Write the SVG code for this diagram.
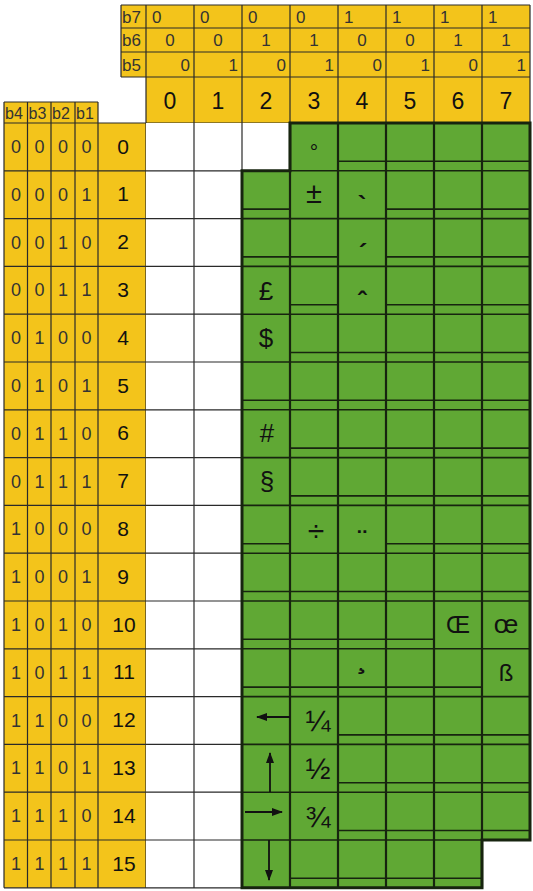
<svg xmlns="http://www.w3.org/2000/svg" width="533" height="891" viewBox="0 0 533 891">
<style>
.y{fill:#f3c41b}
.g{fill:#60a834}
.w{fill:#ffffff}
.ln{stroke:#2a2a2a;stroke-width:1.2;fill:none}
.gl{stroke:#17240f;stroke-width:1.6;fill:none}
.gv{stroke:#17240f;stroke-width:2.2;fill:none}
.ol{stroke:#17240f;stroke-width:3;fill:none;stroke-linejoin:miter}
.bit{font-family:"Liberation Sans",Arial,sans-serif;fill:#333;font-size:18px;text-anchor:middle}
.hb{font-family:"Liberation Sans",Arial,sans-serif;fill:#333;font-size:17px}
.lb{font-family:"Liberation Sans",Arial,sans-serif;fill:#333;font-size:16px}
.num{font-family:"Liberation Sans",Arial,sans-serif;fill:#111;font-size:21px;text-anchor:middle}
.dig{font-family:"Liberation Sans",Arial,sans-serif;fill:#111;font-size:23px;text-anchor:middle}
.sym{font-family:"Liberation Sans","DejaVu Sans",sans-serif;fill:#111;text-anchor:middle}
.arr{stroke:#111;stroke-width:1.8;fill:none}
</style>
<defs>
<marker id="ah" viewBox="0 0 11 8" refX="10" refY="4" markerWidth="11" markerHeight="8" markerUnits="userSpaceOnUse" orient="auto">
<path d="M0,0 L11,4 L0,8 Z" fill="#111"/>
</marker>
</defs>

<g id="column-header">
<rect class="y" x="121" y="5" width="409" height="72"/>
<rect class="y" x="146" y="77" width="384" height="46"/>
<path class="ln" d="M121,5 H530 M121,28 H530 M121,52 H530 M121,77 H530 M146,123 H530 M121,5 V77 M146,5 V123 M194,5 V123 M242,5 V123 M290,5 V123 M338,5 V123 M386,5 V123 M434,5 V123 M482,5 V123 M530,5 V123"/>
<text class="hb" x="122" y="23">b7</text>
<text class="hb" x="122" y="46">b6</text>
<text class="hb" x="122" y="71">b5</text>
<text class="hb" x="152 200 248 296 344 392 440 488" y="23">00001111</text>
<text class="hb" text-anchor="middle" x="170 218 266 314 362 410 458 506" y="46">00110011</text>
<text class="hb" text-anchor="end" x="190 238 286 334 382 430 478 526" y="71">01010101</text>
<text class="dig" x="170 218 266 314 362 410 458 506" y="109">01234567</text>
</g>

<g id="row-header">
<rect class="y" x="4" y="102" width="94" height="21"/>
<rect class="y" x="4" y="123" width="142" height="764.8"/>
<path class="ln" d="M4,102 H98 M4,102 V887.8 M27.5,102 V887.8 M51,102 V887.8 M75,102 V887.8 M98,102 V887.8 M146,123 V887.8
M4,123 H146 M4,170.8 H146 M4,218.6 H146 M4,266.4 H146 M4,314.2 H146 M4,362 H146 M4,409.8 H146 M4,457.6 H146 M4,505.4 H146 M4,553.2 H146 M4,601 H146 M4,648.8 H146 M4,696.6 H146 M4,744.4 H146 M4,792.2 H146 M4,840 H146 M4,887.8 H146"/>
<text class="lb" x="5" y="119">b4</text>
<text class="lb" x="28.5" y="119">b3</text>
<text class="lb" x="52" y="119">b2</text>
<text class="lb" x="76" y="119">b1</text>
<text class="bit" x="16 39.5 63 86.5" y="153">0000</text>
<text class="bit" x="16 39.5 63 86.5" y="200.8">0001</text>
<text class="bit" x="16 39.5 63 86.5" y="248.6">0010</text>
<text class="bit" x="16 39.5 63 86.5" y="296.4">0011</text>
<text class="bit" x="16 39.5 63 86.5" y="344.2">0100</text>
<text class="bit" x="16 39.5 63 86.5" y="392">0101</text>
<text class="bit" x="16 39.5 63 86.5" y="439.8">0110</text>
<text class="bit" x="16 39.5 63 86.5" y="487.6">0111</text>
<text class="bit" x="16 39.5 63 86.5" y="535.4">1000</text>
<text class="bit" x="16 39.5 63 86.5" y="583.2">1001</text>
<text class="bit" x="16 39.5 63 86.5" y="631">1010</text>
<text class="bit" x="16 39.5 63 86.5" y="678.8">1011</text>
<text class="bit" x="16 39.5 63 86.5" y="726.6">1100</text>
<text class="bit" x="16 39.5 63 86.5" y="774.4">1101</text>
<text class="bit" x="16 39.5 63 86.5" y="822.2">1110</text>
<text class="bit" x="16 39.5 63 86.5" y="870">1111</text>
<text class="num" x="123" y="153.5">0</text>
<text class="num" x="123" y="201.3">1</text>
<text class="num" x="123" y="249.1">2</text>
<text class="num" x="123" y="296.9">3</text>
<text class="num" x="123" y="344.7">4</text>
<text class="num" x="123" y="392.5">5</text>
<text class="num" x="123" y="440.3">6</text>
<text class="num" x="123" y="488.1">7</text>
<text class="num" x="123" y="535.9">8</text>
<text class="num" x="123" y="583.7">9</text>
<text class="num" x="124" y="631.5">10</text>
<text class="num" x="124" y="679.3">11</text>
<text class="num" x="124" y="727.1">12</text>
<text class="num" x="124" y="774.9">13</text>
<text class="num" x="124" y="822.7">14</text>
<text class="num" x="124" y="870.5">15</text>
</g>

<g id="empty-area">
<rect class="w" x="146" y="123" width="96" height="764.8"/>
<rect class="w" x="242" y="123" width="48" height="47.8"/>
<path class="ln" d="M194,123 V887.8 M242,123 V170.8 M146,887.8 H242
M146,170.8 H242 M146,218.6 H242 M146,266.4 H242 M146,314.2 H242 M146,362 H242 M146,409.8 H242 M146,457.6 H242 M146,505.4 H242 M146,553.2 H242 M146,601 H242 M146,648.8 H242 M146,696.6 H242 M146,744.4 H242 M146,792.2 H242 M146,840 H242"/>
</g>

<g id="supplementary-set">
<path class="g" d="M242,170.8 H290 V123 H530 V840 H482 V887.8 H242 Z"/>
<path class="gl" d="M290,170.8 H530 M242,218.6 H530 M242,266.4 H530 M242,314.2 H530 M242,362 H530 M242,409.8 H530 M242,457.6 H530 M242,505.4 H530 M242,553.2 H530 M242,601 H530 M242,648.8 H530 M242,696.6 H530 M242,744.4 H530 M242,792.2 H530 M242,840 H482"/>
<path class="gl" d="M338,161.3 H530
M242,209.1 H290 M386,209.1 H530
M242,256.9 H338 M386,256.9 H530
M290,304.7 H338 M386,304.7 H530
M290,352.5 H530
M242,400.3 H530
M290,448.1 H530
M290,495.9 H530
M242,543.7 H290 M386,543.7 H530
M242,591.5 H530
M242,639.3 H434
M242,687.1 H482
M338,734.9 H530
M338,782.7 H530
M338,830.5 H530
M290,878.3 H482"/>
<path class="gv" d="M290,123 V887.8 M338,123 V887.8 M386,123 V887.8 M434,123 V887.8 M482,123 V887.8"/>
<path class="ol" d="M242,170.8 H290 V123 H530 V840 H482 V887.8 H242 Z"/>
</g>

<g id="characters">
<text class="sym" x="314" y="159" style="font-size:21px">°</text>
<text class="sym" x="314" y="203" style="font-size:29px">±</text>
<text class="sym" x="362" y="214" style="font-size:26px;font-weight:bold">`</text>
<text class="sym" x="363" y="262" style="font-size:26px;font-weight:bold">´</text>
<text class="sym" x="362" y="310" style="font-size:26px;font-weight:bold">ˆ</text>
<text class="sym" x="266" y="300" style="font-size:26px">£</text>
<text class="sym" x="266" y="347" style="font-size:26px">$</text>
<text class="sym" x="267" y="442" style="font-size:26px">#</text>
<text class="sym" x="267" y="490" style="font-size:26px">§</text>
<text class="sym" x="316" y="541" style="font-size:30px">÷</text>
<text class="sym" x="362" y="548" style="font-size:26px;font-weight:bold">¨</text>
<text class="sym" x="458" y="633" style="font-size:24px">Œ</text>
<text class="sym" x="506" y="633" style="font-size:26px">œ</text>
<text class="sym" x="362" y="668" style="font-size:30px;font-weight:bold">¸</text>
<text class="sym" x="506" y="681" style="font-size:24px">ß</text>
<text class="sym" x="318" y="731" style="font-size:30px">¼</text>
<text class="sym" x="318" y="779" style="font-size:30px">½</text>
<text class="sym" x="318" y="827" style="font-size:30px">¾</text>
</g>

<g id="arrows">
<line class="arr" x1="290" y1="717" x2="257" y2="717" marker-end="url(#ah)"/>
<line class="arr" x1="270" y1="792" x2="270" y2="753" marker-end="url(#ah)"/>
<line class="arr" x1="245" y1="812" x2="282" y2="812" marker-end="url(#ah)"/>
<line class="arr" x1="269" y1="840" x2="269" y2="880" marker-end="url(#ah)"/>
</g>
</svg>
